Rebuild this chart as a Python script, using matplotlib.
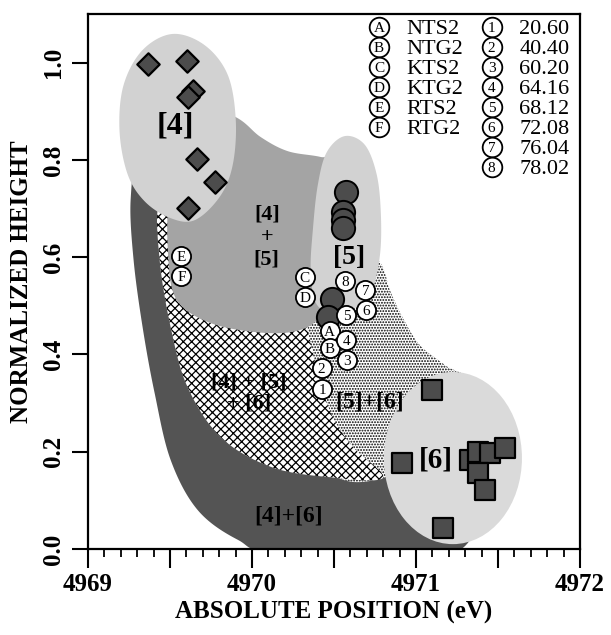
import numpy as np
import matplotlib
matplotlib.use("Agg")
import matplotlib.pyplot as plt
from matplotlib.patches import Ellipse
from matplotlib.ticker import MultipleLocator, FuncFormatter

plt.rcParams["font.family"] = ["Liberation Serif", "DejaVu Serif"]
plt.rcParams["hatch.linewidth"] = 0.9

# ---- data ----
# [4] : diamonds
diamond_x = [4969.363, 4969.603, 4969.638, 4969.607, 4969.664, 4969.777, 4969.607]
diamond_y = [0.997, 1.003, 0.941, 0.929, 0.802, 0.754, 0.702]

# [5] : filled circles
dot_x = [4970.576, 4970.556, 4970.556, 4970.556, 4970.485, 4970.462]
dot_y = [0.733, 0.693, 0.676, 0.660, 0.513, 0.478]

# [6] : squares
square_x = [4971.095, 4970.912, 4971.329, 4971.380, 4971.451, 4971.543, 4971.380, 4971.421, 4971.166]
square_y = [0.327, 0.176, 0.183, 0.200, 0.197, 0.207, 0.156, 0.121, 0.043]

# labelled open circles (reference compounds A-F, series 1-8)
ref_tags = ["C", "D", "E", "F", "A", "B", "1", "2", "3", "4", "5", "6", "7", "8"]
ref_x = [4970.322, 4970.322, 4969.569, 4969.569, 4970.474, 4970.474,
         4970.429, 4970.424, 4970.579, 4970.576, 4970.576, 4970.694, 4970.691, 4970.566]
ref_y = [0.560, 0.519, 0.602, 0.561, 0.449, 0.413,
         0.330, 0.373, 0.389, 0.430, 0.481, 0.492, 0.532, 0.552]

key_letters = ["A", "B", "C", "D", "E", "F"]
key_names = ["NTS2", "NTG2", "KTS2", "KTG2", "RTS2", "RTG2"]
key_numbers = ["1", "2", "3", "4", "5", "6", "7", "8"]
key_values = ["20.60", "40.40", "60.20", "64.16", "68.12", "72.08", "76.04", "78.02"]

# ---- hand-drawn region outlines (data units) ----
reg4_x = [4969.516, 4969.711, 4969.852, 4969.901, 4969.882, 4969.803, 4969.650,
          4969.498, 4969.345, 4969.241, 4969.192, 4969.217, 4969.333]
reg4_y = [1.059, 1.036, 0.975, 0.882, 0.789, 0.724, 0.676,
          0.681, 0.715, 0.771, 0.861, 0.954, 1.026]

reg5_x = [4970.566, 4970.688, 4970.761, 4970.786, 4970.780, 4970.731, 4970.627,
          4970.505, 4970.389, 4970.358, 4970.371, 4970.401, 4970.456]
reg5_y = [0.849, 0.831, 0.769, 0.687, 0.604, 0.532, 0.495,
          0.481, 0.506, 0.574, 0.656, 0.748, 0.816]

reg6_center = (4971.225, 0.187)
reg6_size = (0.842, 0.354)

reg45_x = [4969.620, 4969.901, 4970.053, 4970.218, 4970.419, 4970.566, 4970.566, 4970.413,
           4970.291, 4970.096, 4969.809, 4969.607, 4969.515, 4969.487, 4969.487, 4969.528]
reg45_y = [0.923, 0.888, 0.847, 0.818, 0.806, 0.789, 0.532, 0.475,
           0.450, 0.444, 0.458, 0.489, 0.532, 0.615, 0.693, 0.759]

reg456_x = [4969.437, 4969.437, 4969.504, 4969.607, 4969.809, 4970.114, 4970.462, 4970.798,
            4970.615, 4970.493, 4970.413, 4970.346, 4970.291, 4969.925, 4969.620]
reg456_y = [0.707, 0.594, 0.456, 0.333, 0.230, 0.169, 0.148, 0.146,
            0.210, 0.271, 0.347, 0.440, 0.512, 0.553, 0.656]

reg56_x = [4970.597, 4970.780, 4970.841, 4970.920, 4971.024, 4971.177, 4971.329, 4971.145,
           4970.798, 4970.474, 4970.291, 4970.291, 4970.474]
reg56_y = [0.656, 0.590, 0.532, 0.475, 0.419, 0.378, 0.337, 0.224,
           0.146, 0.162, 0.347, 0.512, 0.615]

reg46_x = [4969.315, 4969.260, 4969.278, 4969.333, 4969.406, 4969.504, 4969.669, 4969.913,
           4970.169, 4971.237, 4971.329, 4970.798, 4970.291, 4969.681, 4969.528]
reg46_y = [0.800, 0.718, 0.594, 0.456, 0.321, 0.183, 0.080, 0.019,
           -0.008, -0.008, 0.162, 0.173, 0.265, 0.615, 0.759]


def smooth(xs, ys, n=24):
    # closed Catmull-Rom curve through the outline points
    P = np.column_stack([xs, ys])
    m = len(P)
    t = np.linspace(0, 1, n, endpoint=False)[:, None]
    out = []
    for i in range(m):
        p0, p1, p2, p3 = P[i - 1], P[i], P[(i + 1) % m], P[(i + 2) % m]
        out.append(0.5 * (2 * p1 + (-p0 + p2) * t
                          + (2 * p0 - 5 * p1 + 4 * p2 - p3) * t ** 2
                          + (-p0 + 3 * p1 - 3 * p2 + p3) * t ** 3))
    return np.vstack(out)


fig = plt.figure(figsize=(6.11, 6.35), dpi=100)
ax = fig.add_axes([88 / 611, 86 / 635, 492 / 611, 535 / 635])

# regions, back to front
pts = smooth(reg46_x, reg46_y)
ax.fill(pts[:, 0], pts[:, 1], facecolor="#545454", edgecolor="none", zorder=1)
pts = smooth(reg56_x, reg56_y)
ax.fill(pts[:, 0], pts[:, 1], facecolor="white", edgecolor="black", lw=0, hatch="......", zorder=2)
pts = smooth(reg456_x, reg456_y)
ax.fill(pts[:, 0], pts[:, 1], facecolor="white", edgecolor="black", lw=0, hatch="xxxx", zorder=3)
pts = smooth(reg45_x, reg45_y)
ax.fill(pts[:, 0], pts[:, 1], facecolor="#a4a4a4", edgecolor="none", zorder=4)
pts = smooth(reg4_x, reg4_y)
ax.fill(pts[:, 0], pts[:, 1], facecolor="#d2d2d2", edgecolor="none", zorder=5)
pts = smooth(reg5_x, reg5_y)
ax.fill(pts[:, 0], pts[:, 1], facecolor="#d2d2d2", edgecolor="none", zorder=5)
ax.add_patch(Ellipse(reg6_center, reg6_size[0], reg6_size[1],
                     facecolor="#dadada", edgecolor="none", zorder=5))

# region names
lab = dict(ha="center", va="center", fontweight="bold", color="black", zorder=6)
ax.text(4969.534, 0.870, "[4]", fontsize=23, **lab)
ax.text(4970.090, 0.641, "[4]\n+\n[5]", fontsize=16, linespacing=1.15, **lab)
ax.text(4970.590, 0.600, "[5]", fontsize=20, **lab)
ax.text(4969.981, 0.321, "[4] + [5]\n+ [6]", fontsize=16, linespacing=1.1, **lab)
ax.text(4970.718, 0.302, "[5]+[6]", fontsize=17, **lab)
ax.text(4971.121, 0.183, "[6]", fontsize=21, **lab)
ax.text(4970.224, 0.068, "[4]+[6]", fontsize=17, **lab)

# markers
ax.scatter(diamond_x, diamond_y, marker="D", s=130, facecolor="#4c4c4c",
           edgecolor="black", linewidth=1.6, zorder=8)
ax.scatter(dot_x, dot_y, marker="o", s=280, facecolor="#4c4c4c",
           edgecolor="black", linewidth=1.4, zorder=8)
ax.scatter(square_x, square_y, marker="s", s=200, facecolor="#4c4c4c",
           edgecolor="black", linewidth=1.6, zorder=8)
ax.scatter(ref_x, ref_y, marker="o", s=190, facecolor="white",
           edgecolor="black", linewidth=1.3, zorder=9)
for tag, x, y in zip(ref_tags, ref_x, ref_y):
    ax.text(x, y, tag, fontsize=11, ha="center", va="center_baseline", zorder=10)

# key in the upper right
step = 20 / 535
for i, (ch, name) in enumerate(zip(key_letters, key_names)):
    yy = 0.9757 - i * step
    ax.scatter([0.5915], [yy], marker="o", s=200, facecolor="white", edgecolor="black",
               linewidth=1.3, transform=ax.transAxes, zorder=9, clip_on=False)
    ax.text(0.5915, yy, ch, fontsize=11, ha="center", va="center_baseline",
            transform=ax.transAxes, zorder=10)
    ax.text(0.648, yy, name, fontsize=16, ha="left", va="center_baseline",
            transform=ax.transAxes, zorder=10)
for i, (ch, val) in enumerate(zip(key_numbers, key_values)):
    yy = 0.9757 - i * step
    ax.scatter([0.8205], [yy], marker="o", s=200, facecolor="white", edgecolor="black",
               linewidth=1.3, transform=ax.transAxes, zorder=9, clip_on=False)
    ax.text(0.8205, yy, ch, fontsize=11, ha="center", va="center_baseline",
            transform=ax.transAxes, zorder=10)
    ax.text(0.877, yy, val, fontsize=16, ha="left", va="center_baseline",
            transform=ax.transAxes, zorder=10)

# axes
ax.set_xlim(4969, 4972)
ax.set_ylim(0, 1.1)
ax.xaxis.set_major_locator(MultipleLocator(0.5))
ax.xaxis.set_minor_locator(MultipleLocator(0.1))
ax.xaxis.set_major_formatter(FuncFormatter(lambda v, p: f"{v:.0f}" if abs(v - round(v)) < 1e-6 else ""))
ax.yaxis.set_major_locator(MultipleLocator(0.2))
ax.yaxis.set_major_formatter(FuncFormatter(lambda v, p: f"{v:.1f}"))
ax.tick_params(axis="x", which="major", direction="out", length=14, width=1.5,
               labelsize=18, pad=3)
ax.tick_params(axis="x", which="minor", direction="out", length=6, width=1.3)
ax.tick_params(axis="y", which="major", direction="out", length=11.5, width=1.5,
               labelsize=18, pad=5)
for t in ax.get_xticklabels() + ax.get_yticklabels():
    t.set_fontweight("bold")
plt.setp(ax.get_yticklabels(), rotation=90, va="center")
for sp in ax.spines.values():
    sp.set_linewidth(1.6)

ax.set_xlabel("ABSOLUTE POSITION (eV)", fontsize=18, fontweight="bold")
ax.set_ylabel("NORMALIZED HEIGHT", fontsize=18, fontweight="bold")
ax.xaxis.set_label_coords(0.5, -0.097)
ax.yaxis.set_label_coords(-0.112, 0.5)

fig.savefig("out.png", dpi=100)
